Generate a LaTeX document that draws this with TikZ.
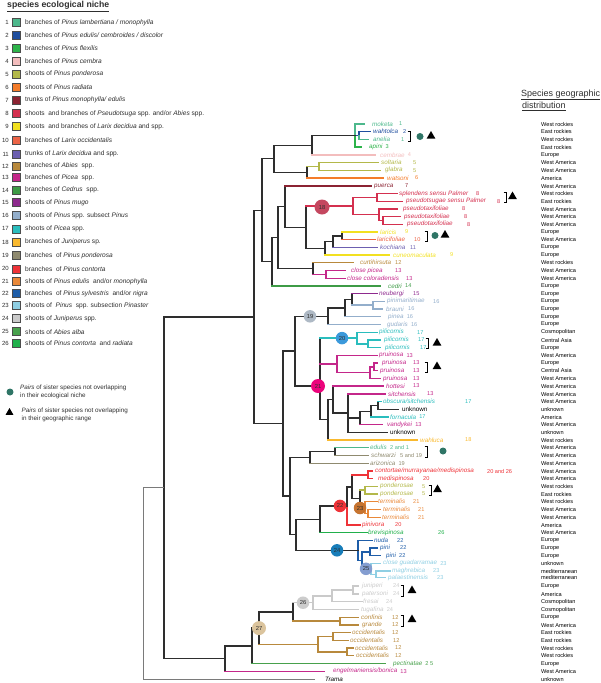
\documentclass[tikz,border=0pt]{standalone}
\usepackage{fontspec}
\setmainfont{Liberation Sans}
\usetikzlibrary{calc,shapes.geometric}
\definecolor{c1}{HTML}{4DB88C}
\definecolor{c2}{HTML}{1F4E9E}
\definecolor{c3}{HTML}{2DB34A}
\definecolor{c4}{HTML}{F3BDBD}
\definecolor{c5}{HTML}{B3B84A}
\definecolor{c6}{HTML}{F47C2A}
\definecolor{c7}{HTML}{8B2332}
\definecolor{c8}{HTML}{D4304F}
\definecolor{c9}{HTML}{F2E020}
\definecolor{c10}{HTML}{EC6446}
\definecolor{c11}{HTML}{6C5FB0}
\definecolor{c12}{HTML}{B8893C}
\definecolor{c13}{HTML}{C4278A}
\definecolor{c14}{HTML}{3E9B46}
\definecolor{c15}{HTML}{8E2A8E}
\definecolor{c16}{HTML}{93AECB}
\definecolor{c17}{HTML}{2ABDBD}
\definecolor{c18}{HTML}{F9B92E}
\definecolor{c19}{HTML}{8F8A6F}
\definecolor{c20}{HTML}{EE3338}
\definecolor{c21}{HTML}{E98838}
\definecolor{c22}{HTML}{1E5DA8}
\definecolor{c23}{HTML}{8FCFE3}
\definecolor{c24}{HTML}{CACACA}
\definecolor{c25}{HTML}{48A14C}
\definecolor{c26}{HTML}{21B04B}
\definecolor{tk}{HTML}{2E2E2E}
\definecolor{rootg}{HTML}{7A7A7A}
\definecolor{dotc}{HTML}{2F7566}
\definecolor{k18c}{HTML}{C4475F}
\tikzset{
  tr/.style={line width=1.35pt,line cap=rect},
  tl/.style={anchor=west,inner sep=0pt,font=\fontsize{6.3}{7}\selectfont\itshape},
  tn/.style={anchor=west,inner sep=0pt,font=\fontsize{5.6}{6}\selectfont},
  dst/.style={anchor=west,inner sep=0pt,font=\fontsize{5.6}{6}\selectfont,text=black},
  lgn/.style={anchor=east,inner sep=0pt,font=\fontsize{6}{7}\selectfont,text=tk},
  lgb/.style={rectangle,draw=gray!60!black,line width=0.6pt,minimum size=8pt,inner sep=0pt},
  lgt/.style={anchor=west,inner sep=0pt,font=\fontsize{6.6}{7}\selectfont,text=tk},
  circ/.style={circle,inner sep=0pt,minimum size=12.5pt,font=\fontsize{5.8}{6}\selectfont,text=tk},
  trg/.style={regular polygon,regular polygon sides=3,fill=black,inner sep=0pt,minimum size=10pt},
  dotn/.style={circle,fill=dotc,inner sep=0pt,minimum size=7pt},
  bkt/.style={line width=0.8pt,black}
}
\newcommand\innd[4]{\path let \p1=($(#3)!0.5!(#4)$) in (#2pt,\y1) coordinate (#1);}
\newcommand\edg[4]{\draw[tr,#3] (#1) -- (#1 |- #2); \draw[tr,#4] (#1 |- #2) -- (#2);}
\newcommand\tipn[8]{\coordinate (#1) at (#3,#2); \node[tl,text=#8] (#1l) at (#4,#2) {#5};
  \path let \p1=(#1l.east), \n1={max(\x1+2.8pt,#7pt)} in node[tn,text=#8] (#1n) at (\n1,\y1) {#6};}
\newcommand\mybk[4]{\draw[bkt] ({#2-2.5},#3) -- (#2,#3) -- (#2,#4) -- ({#2-2.5},#4); \coordinate (#1) at (#2,#3);}
\newcommand\lgd[4]{\node[lgn] (ln#1) at (9,#2) {#1}; \node[lgb,fill=#3] (lb#1) at (16.5,#2) {}; \node[lgt] (lt#1) at (25,#2) {#4};}
\begin{document}
\begin{tikzpicture}[x=1pt,y=-1pt]
\useasboundingbox (0,0) rectangle (600,683);
% ---------------- legend ----------------
\node[anchor=west,inner sep=0pt,font=\fontsize{8.7}{9}\selectfont\bfseries,text=tk] (ltitle) at (7,6.5) {\underline{species ecological niche}};
\lgd{1}{22.3}{c1}{branches of \textit{Pinus lambertiana / monophylla}}
\lgd{2}{35.3}{c2}{branches of \textit{Pinus edulis/ cembroides / discolor}}
\lgd{3}{48.3}{c3}{branches of \textit{Pinus flexilis}}
\lgd{4}{61.3}{c4}{branches of \textit{Pinus cembra}}
\lgd{5}{74}{c5}{shoots of \textit{Pinus ponderosa}}
\lgd{6}{87.3}{c6}{shoots of \textit{Pinus radiata}}
\lgd{7}{100}{c7}{trunks of \textit{Pinus monophylla/ edulis}}
\lgd{8}{113.3}{c8}{shoots~ and branches of \textit{Pseudotsuga} spp. and/or \textit{Abies} spp.}
\lgd{9}{126.7}{c9}{shoots~ and branches of \textit{Larix decidua} and spp.}
\lgd{10}{140}{c10}{branches of \textit{Larix occidentalis}}
\lgd{11}{154}{c11}{trunks of \textit{Larix decidua} and spp.}
\lgd{12}{166}{c12}{branches of \textit{Abies}~ spp.}
\lgd{13}{177.7}{c13}{branches of \textit{Picea}~ spp.}
\lgd{14}{190}{c14}{branches of \textit{Cedrus}~ spp.}
\lgd{15}{202.3}{c15}{shoots of \textit{Pinus mugo}}
\lgd{16}{215.5}{c16}{shoots of \textit{Pinus} spp. subsect \textit{Pinus}}
\lgd{17}{228.8}{c17}{shoots of \textit{Picea} spp.}
\lgd{18}{242}{c18}{branches of \textit{Juniperus} sp.}
\lgd{19}{255.5}{c19}{branches~ of \textit{Pinus ponderosa}}
\lgd{20}{268.8}{c20}{branches~ of \textit{Pinus contorta}}
\lgd{21}{281.7}{c21}{shoots of \textit{Pinus edulis}~ and/or \textit{monophylla}}
\lgd{22}{293.3}{c22}{branches~ of \textit{Pinus sylvestris}~ and/or \textit{nigra}}
\lgd{23}{305.7}{c23}{shoots of~ \textit{Pinus}~ spp. subsection \textit{Pinaster}}
\lgd{24}{318.3}{c24}{shoots of \textit{Juniperus} spp.}
\lgd{25}{331.7}{c25}{shoots of \textit{Abies alba}}
\lgd{26}{343.3}{c26}{shoots of \textit{Pinus contorta}~ and \textit{radiata}}
\node[dotn] (sym1) at (10,392) {};
\node[lgt,font=\fontsize{6.3}{7}\selectfont] (sym1a) at (20,388) {\textit{Pairs} of sister species not overlapping};
\node[lgt,font=\fontsize{6.3}{7}\selectfont] (sym1b) at (20,395.8) {in their ecological niche};
\node[trg,minimum size=9pt] (sym2) at (9.5,412.5) {};
\node[lgt,font=\fontsize{6.3}{7}\selectfont] (sym2a) at (21.5,411) {\textit{Pairs} of sister species not overlapping};
\node[lgt,font=\fontsize{6.3}{7}\selectfont] (sym2b) at (21.5,418.8) {in their geographic range};
% ---------------- distribution header ----------------
\node[anchor=west,inner sep=0pt,font=\fontsize{9}{10}\selectfont,text=tk] (dh1) at (521,95) {\underline{Species geographic}};
\node[anchor=west,inner sep=0pt,font=\fontsize{9}{10}\selectfont,text=tk] (dh2) at (522,106) {\underline{distribution}};
% ---------------- tips ----------------
\tipn{t1}{124}{364}{372}{moketa}{1}{399}{c1}
\tipn{t2}{131.7}{370}{373}{wahtolca}{2}{403}{c2}
\tipn{t3}{139.3}{368}{373}{anelia}{1}{401}{c1}
\tipn{t4}{147}{361}{369}{apini}{3}{379}{c3}
\tipn{t5}{155}{375}{380}{cembrae}{4}{407}{c4}
\tipn{t6}{162.7}{378}{381}{soltaria}{5}{413}{c5}
\tipn{t7}{170.3}{380}{385}{glabra}{5}{413}{c5}
\tipn{t8}{178}{383}{387}{watsoni}{6}{415}{c6}
\tipn{t9}{186}{371}{374}{puerca}{7}{405}{c7}
\tipn{t10}{193.7}{397}{399}{splendens sensu Palmer}{8}{476}{c8}
\tipn{t11}{201.3}{402}{406}{pseudotsugae sensu Palmer}{8}{497}{c8}
\tipn{t12}{209}{397}{403}{pseudotaxifoliae}{8}{462}{c8}
\tipn{t13}{216.7}{400}{404}{pseudotaxifoliae}{8}{464}{c8}
\tipn{t14}{224.3}{402}{407}{pseudotaxifoliae}{8}{467}{c8}
\tipn{t15}{232}{377}{380}{laricis}{9}{405}{c9}
\tipn{t16}{239.7}{375}{377}{laricifoliae}{10}{414}{c10}
\tipn{t17}{247.4}{377}{380}{kochiana}{11}{410}{c11}
\tipn{t18}{255}{389}{393}{cuneomaculata}{9}{450}{c9}
\tipn{t19}{262.7}{353}{360}{curtihirsuta}{12}{395}{c12}
\tipn{t20}{270.5}{345}{351}{close picea}{13}{395}{c13}
\tipn{t21}{278.3}{345}{347}{close coloradensis}{13}{406}{c13}
\tipn{t22}{286}{380}{388}{cedri}{14}{405}{c14}
\tipn{t23}{293.7}{377}{379}{neubergi}{15}{413}{c15}
\tipn{t24}{301.3}{384}{387}{pinimaritimae}{16}{433}{c16}
\tipn{t25}{309}{382}{386}{brauni}{16}{408}{c16}
\tipn{t26}{316.7}{380}{388}{pinea}{16}{405}{c16}
\tipn{t27}{324.5}{380}{387}{gudaris}{16}{408}{c16}
\tipn{t28}{332.3}{377}{379}{pilicornis}{17}{417}{c17}
\tipn{t29}{340}{380}{384}{pilicornis}{17}{418}{c17}
\tipn{t30}{347.7}{380}{385}{pilicornis}{17}{420}{c17}
\tipn{t31}{355.3}{377}{379}{pruinosa}{13}{403}{c13}
\tipn{t32}{363}{377}{382}{pruinosa}{13}{413}{c13}
\tipn{t33}{370.8}{377}{380}{pruinosa}{13}{413}{c13}
\tipn{t34}{378.4}{380}{383}{pruinosa}{13}{413}{c13}
\tipn{t35}{386}{383}{386}{hottesi}{13}{413}{c13}
\tipn{t36}{394}{385}{388}{sitchensis}{13}{427}{c13}
\tipn{t37}{401.7}{381}{383}{obscura/sitchensis}{17}{465}{c17}
\tipn{t38}{409.3}{398}{402}{\upshape unknown}{}{420}{black}
\tipn{t39}{417}{388}{390}{fornacula}{17}{417}{c17}
\tipn{t40}{424.7}{382}{387}{vandykei}{13}{409}{c13}
\tipn{t41}{432.3}{387}{390}{\upshape unknown}{}{420}{black}
\tipn{t42}{440}{417}{420}{wahluca}{18}{465}{c18}
\tipn{t43}{447.7}{368}{370}{edulis}{2 and 1}{390}{c1}
\tipn{t44}{455.3}{368}{371}{schwarzi}{5 and 19}{400}{c19}
\tipn{t45}{463.2}{368}{370}{arizonica}{19}{395}{c19}
\tipn{t46}{471}{372}{375}{contortae/murrayanae/medispinosa}{20 and 26}{487}{c20}
\tipn{t47}{478.7}{372}{378}{medispinosa}{20}{423}{c20}
\tipn{t48}{486.3}{377}{380}{ponderosae}{5}{422}{c5}
\tipn{t49}{494}{377}{380}{ponderosae}{5}{422}{c5}
\tipn{t50}{501.7}{377}{378}{terminalis}{21}{413}{c21}
\tipn{t51}{509.3}{380}{383}{terminalis}{21}{418}{c21}
\tipn{t52}{517.2}{380}{382}{terminalis}{21}{418}{c21}
\tipn{t53}{525}{360}{362}{pinivora}{20}{395}{c20}
\tipn{t54}{532.7}{367}{368}{brevispinosa}{26}{438}{c26}
\tipn{t55}{540.3}{372}{374}{nuda}{22}{397}{c22}
\tipn{t56}{548}{377}{380}{pini}{22}{400}{c22}
\tipn{t57}{555.7}{380}{386}{pini}{22}{398}{c22}
\tipn{t58}{563.3}{380}{383}{close guadarramae}{23}{437}{c23}
\tipn{t59}{571}{390}{392}{maghrebica}{23}{433}{c23}
\tipn{t60}{577.5}{385}{388}{palaestinensis}{23}{437}{c23}
\tipn{t61}{586}{358}{362}{juniperi}{24}{393}{c24}
\tipn{t62}{594}{358}{362}{patersoni}{24}{393}{c24}
\tipn{t63}{601.7}{362}{363}{fresai}{24}{386}{c24}
\tipn{t64}{609.6}{358}{361}{tugafina}{24}{385}{c24}
\tipn{t65}{617.3}{358}{361}{confinis}{12}{392}{c12}
\tipn{t66}{625}{358}{362}{grande}{12}{392}{c12}
\tipn{t67}{632.7}{350}{352}{occidentalis}{12}{392}{c12}
\tipn{t68}{640.3}{348}{350}{occidentalis}{12}{393}{c12}
\tipn{t69}{648}{353}{355}{occidentalis}{12}{395}{c12}
\tipn{t70}{655.7}{353}{356}{occidentalis}{12}{395}{c12}
\tipn{t71}{663.7}{385}{393}{pectinatae}{2 5}{422}{c25}
\tipn{t72}{671.3}{324}{333}{engelmaniensis/bonica}{13}{395}{c13}
\tipn{t73}{679}{315}{325}{Trama}{}{340}{black}
% ---------------- internal nodes ----------------
\innd{a23}{359}{t2}{t3}
\innd{a14}{355}{t1}{t4}
\innd{a15}{312}{a14}{t5}
\innd{asg}{319}{t6}{t7}
\innd{asw}{307}{asg}{t8}
\innd{au1}{274}{a15}{asw}
\innd{asp}{377}{t10}{t11}
\innd{apt2}{383}{t13}{t14}
\innd{apt}{379}{t12}{apt2}
\innd{a18}{353}{asp}{apt}
\innd{alar}{342}{t15}{t16}
\innd{alk}{333}{alar}{t17}
\innd{alkc}{325}{alk}{t18}
\innd{aL}{306}{a18}{alkc}
\innd{aP}{285}{t9}{aL}
\innd{apic}{326}{t20}{t21}
\innd{acur}{313}{t19}{apic}
\innd{aZ}{278}{aP}{acur}
\innd{aY}{272}{aZ}{t22}
\innd{atop}{262}{au1}{aY}
\innd{apb}{373}{t24}{t25}
\innd{anp}{352}{t23}{apb}
\innd{anpp}{345}{anp}{t26}
\innd{a19}{328}{anpp}{t27}
\innd{apc2}{368}{t29}{t30}
\innd{a20}{357}{t28}{apc2}
\innd{apr23}{374}{t32}{t33}
\innd{apr234}{370}{apr23}{t34}
\innd{apr}{337}{t31}{apr234}
\innd{aou}{378}{t37}{t38}
\innd{aof}{371}{aou}{t39}
\innd{aofv}{360}{aof}{t40}
\innd{as}{348}{t36}{t41}
\innd{ah}{333}{t35}{as}
\innd{ahw}{328}{ah}{t42}
\coordinate (a21) at (320,386);
\innd{a295}{295}{a19}{a21}
\innd{aes}{335}{t43}{t44}
\innd{aesa}{310}{aes}{t45}
\innd{acm}{368}{t46}{t47}
\innd{apo}{365}{t48}{t49}
\innd{ate2}{368}{t51}{t52}
\innd{ate}{365}{t50}{ate2}
\innd{a23n}{360}{apo}{ate}
\innd{acmpt}{352}{acm}{a23n}
\innd{a22}{347}{acmpt}{t53}
\innd{a320}{320}{a22}{t54}
\innd{app}{370}{t56}{t57}
\innd{amp}{376}{t59}{t60}
\innd{a25}{371}{t58}{amp}
\innd{appc}{362}{app}{a25}
\innd{a24}{358}{t55}{appc}
\innd{aQ}{296}{a320}{a24}
\innd{a292}{290}{aesa}{aQ}
\innd{aM}{283}{a295}{a292}
\innd{aspine}{254}{atop}{aM}
\innd{ajp}{353}{t61}{t62}
\innd{ajpf}{332}{ajp}{t63}
\innd{a26}{313}{ajpf}{t64}
\innd{acg}{340}{t65}{t66}
\innd{a2612}{293}{a26}{acg}
\innd{ao12}{333}{t67}{t68}
\innd{ao34}{347}{t69}{t70}
\innd{aocc}{318}{ao12}{ao34}
\innd{a27}{259}{a2612}{aocc}
\innd{aB}{252}{a27}{t71}
\innd{aAA}{225}{aB}{t72}
\innd{a164}{164}{aspine}{aAA}
\innd{aroot}{143}{a164}{t73}
% ---------------- edges ----------------
\edg{a14}{t1}{c1}{c1}\edg{a14}{a23}{c1}{c2}\edg{a23}{t2}{c2}{c2}\edg{a23}{t3}{c1}{c1}\edg{a14}{t4}{c3}{c3}
\edg{a15}{a14}{tk}{tk}\edg{a15}{t5}{tk}{c4}
\edg{asg}{t6}{c5}{c5}\edg{asg}{t7}{c5}{c5}
\edg{asw}{asg}{tk}{c5}\edg{asw}{t8}{tk}{c6}
\edg{au1}{a15}{tk}{tk}\edg{au1}{asw}{tk}{tk}
\edg{asp}{t10}{c8}{c8}\edg{asp}{t11}{c8}{c8}
\edg{apt2}{t13}{c8}{c8}\edg{apt2}{t14}{c8}{c8}
\edg{apt}{t12}{c8}{c8}\edg{apt}{apt2}{c8}{c8}
\edg{a18}{asp}{c8}{c8}\edg{a18}{apt}{c8}{c8}
\edg{alar}{t15}{tk}{c9}\edg{alar}{t16}{tk}{c10}
\edg{alk}{alar}{tk}{tk}\edg{alk}{t17}{tk}{c11}
\edg{alkc}{alk}{tk}{tk}\edg{alkc}{t18}{tk}{c9}
\edg{aL}{a18}{tk}{c8}\edg{aL}{alkc}{tk}{tk}
\edg{aP}{t9}{tk}{c7}\edg{aP}{aL}{tk}{tk}
\edg{apic}{t20}{c13}{c13}\edg{apic}{t21}{c13}{c13}
\edg{acur}{t19}{tk}{c12}\edg{acur}{apic}{tk}{c13}
\edg{aZ}{aP}{tk}{tk}\edg{aZ}{acur}{tk}{tk}
\edg{aY}{aZ}{tk}{tk}\edg{aY}{t22}{tk}{c14}
\edg{atop}{au1}{tk}{tk}\edg{atop}{aY}{tk}{tk}
\edg{apb}{t24}{c16}{c16}\edg{apb}{t25}{c16}{c16}
\edg{anp}{t23}{tk}{c15}\edg{anp}{apb}{tk}{c16}
\edg{anpp}{anp}{tk}{tk}\edg{anpp}{t26}{tk}{c16}
\edg{a19}{anpp}{tk}{tk}\edg{a19}{t27}{tk}{c16}
\edg{apc2}{t29}{c17}{c17}\edg{apc2}{t30}{c17}{c17}
\edg{a20}{t28}{c17}{c17}\edg{a20}{apc2}{c17}{c17}
\edg{apr23}{t32}{c13}{c13}\edg{apr23}{t33}{c13}{c13}
\edg{apr234}{apr23}{c13}{c13}\edg{apr234}{t34}{c13}{c13}
\edg{apr}{t31}{c13}{c13}\edg{apr}{apr234}{c13}{c13}
\edg{aou}{t37}{tk}{c17}\edg{aou}{t38}{tk}{tk}
\edg{aof}{aou}{tk}{tk}\edg{aof}{t39}{tk}{c17}
\edg{aofv}{aof}{tk}{tk}\edg{aofv}{t40}{tk}{c13}
\edg{as}{t36}{tk}{c13}\edg{as}{aofv}{tk}{tk}\edg{as}{t41}{tk}{tk}
\edg{ah}{t35}{tk}{c13}\edg{ah}{as}{tk}{tk}
\edg{ahw}{ah}{tk}{tk}\edg{ahw}{t42}{tk}{c18}
\edg{a21}{a20}{tk}{c17}\edg{a21}{apr}{tk}{c13}\edg{a21}{ahw}{tk}{tk}
\edg{a295}{a19}{tk}{tk}\edg{a295}{a21}{tk}{tk}
\edg{aes}{t43}{tk}{c1}\edg{aes}{t44}{tk}{c19}
\edg{aesa}{aes}{tk}{tk}\edg{aesa}{t45}{tk}{c19}
\edg{acm}{t46}{c20}{c20}\edg{acm}{t47}{c20}{c20}
\edg{apo}{t48}{c5}{c5}\edg{apo}{t49}{c5}{c5}
\edg{ate2}{t51}{c21}{c21}\edg{ate2}{t52}{c21}{c21}
\edg{ate}{t50}{c21}{c21}\edg{ate}{ate2}{c21}{c21}
\edg{a23n}{apo}{tk}{c5}\edg{a23n}{ate}{tk}{c21}
\edg{acmpt}{acm}{tk}{c20}\edg{acmpt}{a23n}{tk}{tk}
\edg{a22}{acmpt}{tk}{tk}\edg{a22}{t53}{c20}{c20}
\edg{a320}{a22}{tk}{tk}\edg{a320}{t54}{tk}{c26}
\edg{app}{t56}{c22}{c22}\edg{app}{t57}{c22}{c22}
\edg{amp}{t59}{c23}{c23}\edg{amp}{t60}{c23}{c23}
\edg{a25}{t58}{c23}{c23}\edg{a25}{amp}{c23}{c23}
\edg{appc}{app}{c22}{c22}\edg{appc}{a25}{c22}{c23}
\edg{a24}{t55}{c22}{c22}\edg{a24}{appc}{c22}{c22}
\edg{aQ}{a320}{tk}{tk}\edg{aQ}{a24}{tk}{tk}
\edg{a292}{aesa}{tk}{tk}\edg{a292}{aQ}{tk}{tk}
\edg{aM}{a295}{tk}{tk}\edg{aM}{a292}{tk}{tk}
\edg{aspine}{atop}{tk}{tk}\edg{aspine}{aM}{tk}{tk}
\edg{ajp}{t61}{c24}{c24}\edg{ajp}{t62}{c24}{c24}
\edg{ajpf}{ajp}{c24}{c24}\edg{ajpf}{t63}{c24}{c24}
\edg{a26}{ajpf}{c24}{c24}\edg{a26}{t64}{c24}{c24}
\edg{acg}{t65}{c12}{c12}\edg{acg}{t66}{c12}{c12}
\edg{a2612}{a26}{tk}{c24}\edg{a2612}{acg}{tk}{c12}
\edg{ao12}{t67}{c12}{c12}\edg{ao12}{t68}{c12}{c12}
\edg{ao34}{t69}{c12}{c12}\edg{ao34}{t70}{c12}{c12}
\edg{aocc}{ao12}{c12}{c12}\edg{aocc}{ao34}{c12}{c12}
\edg{a27}{a2612}{tk}{tk}\edg{a27}{aocc}{tk}{c12}
\edg{aB}{a27}{tk}{tk}\edg{aB}{t71}{tk}{c25}
\edg{aAA}{aB}{tk}{tk}\edg{aAA}{t72}{tk}{c13}
\edg{a164}{aspine}{tk}{tk}\edg{a164}{aAA}{tk}{tk}
\draw[line width=0.8pt,rootg] (aroot) -- (aroot |- a164) -- (a164);
\draw[line width=0.8pt,rootg] (aroot) -- (aroot |- t73) -- (t73);
% ---------------- node circles ----------------
\node[circ,fill=k18c,minimum size=15pt] (k18) at (322,207) {18};
\node[circ,fill=c16!60!gray!70] (k19) at (310,316.3) {19};
\node[circ,fill=cyan!70!blue!80] (k20) at (342,338.1) {20};
\node[circ,fill=magenta!85!red,minimum size=14pt] (k21) at (318,386) {21};
\node[circ,fill=c20] (k22) at (340,505.9) {22};
\node[circ,fill=c21!85!black] (k23) at (360,508) {23};
\node[circ,fill=c22!80!cyan] (k24) at (337,550.3) {24};
\node[circ,fill=c16!90!blue] (k25) at (366,568.8) {25};
\node[circ,fill=black!20] (k26) at (303,602.7) {26};
\node[circ,fill=c12!50!white,minimum size=14pt] (k27) at (259,628.1) {27};
% ---------------- brackets and symbols ----------------
\mybk{b1}{410}{131}{141}\node[dotn] (d1s) at (420,136.5) {};\node[trg] (r1s) at (431,136) {};
\mybk{b2}{506}{192.5}{202.5}\node[trg] (r2s) at (512.5,196.5) {};
\mybk{b3}{427}{231}{241}\node[dotn] (d3s) at (435,235.5) {};\node[trg] (r3s) at (445,235) {};
\mybk{b4}{428}{338.5}{348.5}\node[trg] (r4s) at (437,343) {};
\mybk{b5}{427}{362}{372}\node[trg] (r5s) at (437,366.5) {};
\mybk{b6}{427}{446}{457}\node[dotn] (d6s) at (443,451) {};
\mybk{b7}{431}{485}{495}\node[trg] (r7s) at (437.5,489.5) {};
\mybk{b8}{403}{585.5}{596.5}\node[trg] (r8s) at (412,590.5) {};
\mybk{b9}{403}{615}{626}\node[trg] (r9s) at (412,619.5) {};
% ---------------- distribution ----------------
\foreach \yy/\dtx [count=\i] in {124/West  rockies,131.7/East  rockies,139.3/West  rockies,147/East  rockies,155/Europe,162.7/West  America,170.3/West  America,178/America,186/West  America,193.7/West  rockies,201.3/East  rockies,209/West  America,216.7/West  America,224.3/West  America,232/Europe,239.7/West  America,247.4/Europe,255/Europe,262.7/West  rockies,270.5/West  America,278.3/West  America,286/Europe,293.7/Europe,301.3/Europe,309/Europe,316.7/Europe,324.5/Europe,332.3/Cosmopolitan,340/Central  Asia,347.7/Europe,355.3/West  America,363/Europe,370.8/Central  Asia,378.4/West  America,386/West  America,394/West  America,401.7/West  America,409.3/unknown,417/America,424.7/West  America,432.3/unknown,440/West  rockies,447.7/West  America,455.3/West  America,463.2/West  America,471/West  America,478.7/West  America,486.3/West  rockies,494/East  rockies,501.7/West  rockies,509.3/West  America,517.2/West  America,525/America,532.7/West  America,540.3/Europe,548/Europe,555.7/Europe,563.3/unknown,571/mediterranean,577.5/mediterranean,586/Europe,594/America,601.7/Cosmopolitan,609.6/Cosmopolitan,617.3/Europe,625/West  America,632.7/East  rockies,640.3/East  rockies,648/West  rockies,655.7/West  rockies,663.7/Europe,671.3/West  America,679/unknown}
  {\node[dst] (dist\i) at (541,\yy) {\dtx};}
\end{tikzpicture}
\end{document}
